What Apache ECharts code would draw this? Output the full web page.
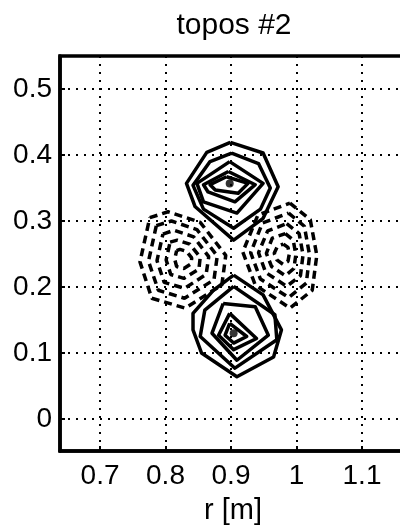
<!DOCTYPE html>
<html>
<head>
<meta charset="utf-8">
<script src="https://cdn.jsdelivr.net/npm/echarts@6/dist/echarts.min.js"></script>
<style>html,body{margin:0;padding:0;background:#fff}#c{width:400px;height:529px}</style>
</head>
<body>
<div id="c"></div>
<script>
// Tick values
var xTicks = [0.7, 0.8, 0.9, 1.0, 1.1];
var yTicks = [0, 0.1, 0.2, 0.3, 0.4, 0.5];

// Positive (solid) contours, upper lobe, outer -> inner
var upperPos1 = [[0.899,0.419],[0.863,0.404],[0.832,0.357],[0.845,0.322],[0.904,0.271],[0.949,0.304],[0.972,0.352],[0.949,0.403]];
var upperPos2 = [[0.901,0.403],[0.868,0.390],[0.842,0.354],[0.858,0.318],[0.904,0.289],[0.945,0.318],[0.960,0.350],[0.942,0.387]];
var upperPos3 = [[0.898,0.390],[0.848,0.357],[0.858,0.329],[0.909,0.312],[0.949,0.357]];
var upperPos4 = [[0.896,0.375],[0.858,0.355],[0.865,0.344],[0.906,0.329],[0.937,0.355]];
var upperPos5 = [[0.893,0.367],[0.868,0.355],[0.876,0.347],[0.911,0.342],[0.926,0.357]];

// Positive (solid) contours, lower lobe, outer -> inner
var lowerPos1 = [[0.904,0.218],[0.873,0.195],[0.842,0.160],[0.842,0.135],[0.855,0.100],[0.909,0.064],[0.965,0.094],[0.977,0.135],[0.949,0.188]];
var lowerPos2 = [[0.904,0.201],[0.860,0.165],[0.853,0.125],[0.906,0.077],[0.970,0.120],[0.967,0.158]];
var lowerPos3 = [[0.888,0.175],[0.871,0.130],[0.909,0.089],[0.957,0.127],[0.937,0.170]];
var lowerPos4 = [[0.898,0.160],[0.881,0.127],[0.904,0.105],[0.939,0.122]];
var lowerPos5 = [[0.898,0.145],[0.891,0.127],[0.904,0.115],[0.924,0.125]];

// Peak markers
var peaks = [[0.898,0.357],[0.904,0.130]];

// Negative (dashed) contours, left lobe, outer -> inner
var leftNeg1 = [[0.776,0.305],[0.804,0.314],[0.853,0.298],[0.892,0.248],[0.886,0.203],[0.830,0.168],[0.779,0.183],[0.761,0.238]];
var leftNeg2 = [[0.786,0.293],[0.809,0.300],[0.848,0.287],[0.879,0.247],[0.874,0.211],[0.829,0.183],[0.789,0.195],[0.774,0.239]];
var leftNeg3 = [[0.796,0.280],[0.813,0.286],[0.843,0.276],[0.866,0.246],[0.862,0.219],[0.829,0.198],[0.798,0.207],[0.787,0.240]];
var leftNeg4 = [[0.807,0.268],[0.818,0.271],[0.837,0.265],[0.853,0.245],[0.851,0.227],[0.828,0.213],[0.808,0.219],[0.801,0.241]];
var leftNeg5 = [[0.817,0.255],[0.822,0.257],[0.832,0.254],[0.840,0.244],[0.839,0.235],[0.828,0.228],[0.817,0.231],[0.814,0.242]];

// Negative (dashed) contours, right lobe, outer -> inner
var rightNeg1 = [[0.990,0.327],[1.021,0.302],[1.031,0.248],[1.024,0.195],[0.990,0.168],[0.937,0.203],[0.918,0.253],[0.941,0.309]];
var rightNeg2 = [[0.988,0.312],[1.012,0.292],[1.020,0.248],[1.015,0.206],[0.988,0.184],[0.945,0.212],[0.930,0.252],[0.948,0.297]];
var rightNeg3 = [[0.985,0.296],[1.004,0.281],[1.010,0.249],[1.006,0.217],[0.985,0.201],[0.953,0.222],[0.942,0.252],[0.956,0.285]];
var rightNeg4 = [[0.983,0.281],[0.995,0.271],[0.999,0.249],[0.996,0.228],[0.983,0.217],[0.962,0.231],[0.954,0.251],[0.963,0.274]];
var rightNeg5 = [[0.980,0.265],[0.987,0.260],[0.989,0.250],[0.987,0.239],[0.980,0.234],[0.970,0.241],[0.966,0.251],[0.971,0.262]];

var solidSets = [upperPos1, upperPos2, upperPos3, upperPos4, upperPos5, lowerPos1, lowerPos2, lowerPos3, lowerPos4, lowerPos5];
var dashedSets = [leftNeg1, leftNeg2, leftNeg3, leftNeg4, leftNeg5, rightNeg1, rightNeg2, rightNeg3, rightNeg4, rightNeg5];

function closed(pts) { return pts.concat([pts[0]]); }

var FONT = 'Liberation Sans';
var series = [];
solidSets.forEach(function (pts) {
  series.push({ type: 'line', data: closed(pts), showSymbol: false, symbol: 'none', smooth: false,
    lineStyle: { color: '#000', width: 3.5, type: 'solid', join: 'round' }, z: 3 });
});
dashedSets.forEach(function (pts) {
  series.push({ type: 'line', data: closed(pts), showSymbol: false, symbol: 'none', smooth: false,
    lineStyle: { color: '#000', width: 3.5, type: [8, 5] }, z: 3 });
});
series.push({ type: 'scatter', data: peaks, symbol: 'circle', symbolSize: 8,
  itemStyle: { color: '#000' }, z: 4 });

var chart = echarts.init(document.getElementById('c'), null, { renderer: 'canvas' });
chart.setOption({
  animation: false,
  backgroundColor: '#fff',
  title: {
    text: 'topos #2', left: 229, top: 6, textAlign: 'center',
    textStyle: { fontFamily: FONT, fontSize: 30, fontWeight: 'normal', color: '#000' }
  },
  grid: { left: 60, right: -6, top: 56, bottom: 78, show: true, borderColor: '#000', borderWidth: 3.5,
    backgroundColor: 'transparent', containLabel: false, outerBoundsMode: 'none' },
  xAxis: {
    type: 'value', min: 0.6389, max: 1.1672,
    name: 'r [m]', nameLocation: 'middle', nameGap: 45,
    nameTextStyle: { fontFamily: FONT, fontSize: 29, color: '#000' },
    axisLine: { show: true, onZero: false, lineStyle: { color: '#000', width: 3.5 } },
    axisTick: { show: true, inside: true, length: 5, customValues: xTicks, lineStyle: { color: '#000', width: 2 } },
    axisLabel: { customValues: xTicks, margin: 11, fontFamily: FONT, fontSize: 28, color: '#000',
      formatter: function (v) { return String(Math.round(v * 10) / 10); } },
    splitLine: { show: true, lineStyle: { color: '#000', width: 2, type: [2, 6] } }
  },
  yAxis: {
    type: 'value', min: -0.0485, max: 0.55,
    axisLine: { show: true, onZero: false, lineStyle: { color: '#000', width: 3.5 } },
    axisTick: { show: true, inside: true, length: 5, customValues: yTicks, lineStyle: { color: '#000', width: 2 } },
    axisLabel: { customValues: yTicks, margin: 8, fontFamily: FONT, fontSize: 28, color: '#000',
      formatter: function (v) { return String(Math.round(v * 10) / 10); } },
    splitLine: { show: true, lineStyle: { color: '#000', width: 2, type: [2, 6] } }
  },
  series: series
});
</script>
</body>
</html>
